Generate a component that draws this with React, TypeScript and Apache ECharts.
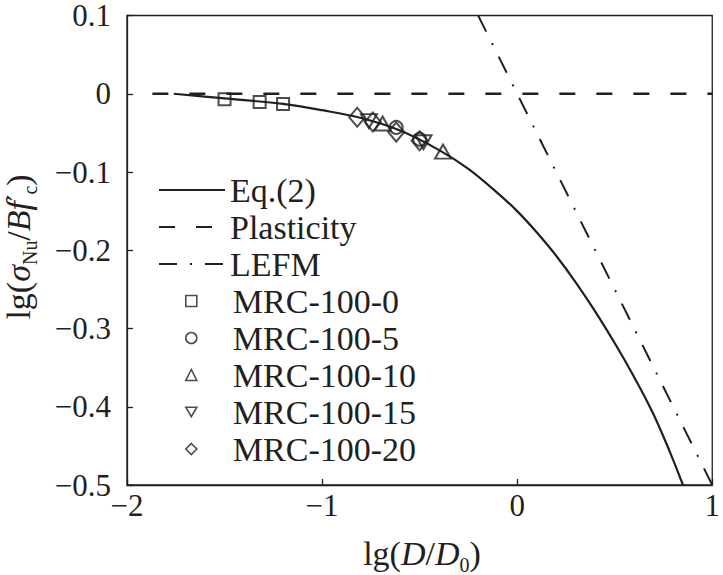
import React, { useEffect, useRef } from 'react';
import * as echarts from 'echarts';

const INK = '#231f20';
const FONT = '"Liberation Serif", "Times New Roman", serif';

// Eq.(2) curve
const curveX = [-1.76, -1.5, -1.2, -1.0, -0.8, -0.6, -0.4, -0.25, -0.1, 0.0, 0.1, 0.2, 0.3, 0.42, 0.55, 0.69, 0.78, 0.85];
const curveY = [0.0, -0.006, -0.013, -0.021, -0.031, -0.047, -0.072, -0.096, -0.127, -0.15, -0.177, -0.207, -0.241, -0.286, -0.34, -0.405, -0.456, -0.5];

// Plasticity criterion (horizontal line)
const plasticX = [-1.87, 1];
const plasticY = [0, 0];

// LEFM asymptote
const lefmX = [-0.2, 1];
const lefmY = [0.1, -0.5];

// test data
const mrc0X = [-1.5, -1.32, -1.2];
const mrc0Y = [-0.007, -0.0105, -0.013];
const mrc5X = [-0.62, -0.5];
const mrc5Y = [-0.043, -0.058];
const mrc10X = [-0.69, -0.38];
const mrc10Y = [-0.038, -0.074];
const mrc15X = [-0.76, -0.48];
const mrc15Y = [-0.035, -0.062];
const mrc20X = [-0.82, -0.74, -0.62, -0.5];
const mrc20Y = [-0.03, -0.036, -0.049, -0.06];

const lineNames = ['Eq.(2)', 'Plasticity', 'LEFM'];
const markerNames = ['MRC-100-0', 'MRC-100-5', 'MRC-100-10', 'MRC-100-15', 'MRC-100-20'];

const xTicks = [-2, -1, 0, 1];
const yTicks = [-0.5, -0.4, -0.3, -0.2, -0.1, 0, 0.1];

const zip = (xs: number[], ys: number[]) => xs.map((x, i) => [x, ys[i]]);
const minus = (s: string) => s.replace('-', '\u2212');

const markerStyle = { color: 'rgba(0,0,0,0)', borderColor: INK, borderWidth: 2 };
const hideSymbol = { color: 'rgba(0,0,0,0)', borderWidth: 0, borderColor: 'rgba(0,0,0,0)' };

const richLabel = {
  n: { fontFamily: FONT, fontSize: 34, lineHeight: 44, fill: INK },
  i: { fontFamily: FONT, fontSize: 34, lineHeight: 44, fontStyle: 'italic', fill: INK },
  p: { fontFamily: '"DejaVu Serif", serif', fontSize: 28, lineHeight: 44, fill: INK },
  s: { fontFamily: FONT, fontSize: 20, lineHeight: 20, verticalAlign: 'bottom', fill: INK },
};

const legendText = { color: INK, fontFamily: FONT, fontSize: 34, lineHeight: 34 };

const option: any = {
  animation: false,
  backgroundColor: '#fff',
  grid: { left: 127, top: 10, right: 5.5, bottom: 90, show: true, borderColor: INK, borderWidth: 1.3, backgroundColor: 'transparent' },
  xAxis: {
    type: 'value', min: xTicks[0], max: xTicks[xTicks.length - 1], interval: 1,
    axisLine: { show: true, onZero: false, lineStyle: { color: INK, width: 1.3 } },
    axisTick: { show: true, inside: true, length: 6, lineStyle: { color: INK, width: 1.3 } },
    splitLine: { show: false },
    axisLabel: { color: INK, fontFamily: FONT, fontSize: 31, lineHeight: 24, margin: 8, formatter: (v: number) => minus(String(Math.round(v))) },
  },
  yAxis: {
    type: 'value', min: yTicks[0], max: yTicks[yTicks.length - 1], interval: 0.1,
    axisLine: { show: true, onZero: false, lineStyle: { color: INK, width: 1.3 } },
    axisTick: { show: true, inside: true, length: 6, lineStyle: { color: INK, width: 1.3 } },
    splitLine: { show: false },
    axisLabel: {
      color: INK, fontFamily: FONT, fontSize: 31, lineHeight: 22, margin: 16,
      formatter: (v: number) => { const r = Math.round(v * 10) / 10; return r === 0 ? '0' : minus(r.toFixed(1)); },
    },
  },
  legend: [
    {
      orient: 'vertical', left: 153, top: 168, itemWidth: 66, itemHeight: 11, itemGap: 3,
      selectedMode: false,
      textStyle: legendText,
      data: lineNames.map((name) => ({ name, itemStyle: hideSymbol })),
    },
    {
      orient: 'vertical', left: 180, top: 279, itemWidth: 11, itemHeight: 11, itemGap: 3,
      selectedMode: false,
      textStyle: { ...legendText, padding: [0, 0, 0, 31] },
      itemStyle: { borderWidth: 1.6 },
      data: markerNames.map((name, i) => (i === 3 ? { name, icon: 'path://M0,0 L12,0 L6,10.4 Z' } : { name })),
    },
  ],
  series: [
    { name: lineNames[0], type: 'line', data: zip(curveX, curveY), smooth: 0.35, symbol: 'none', color: INK, lineStyle: { color: INK, width: 2.2 }, z: 3 },
    { name: lineNames[1], type: 'line', data: zip(plasticX, plasticY), symbol: 'none', color: INK, lineStyle: { color: INK, width: 2.5, type: [16, 21] }, z: 2 },
    { name: lineNames[2], type: 'line', data: zip(lefmX, lefmY), symbol: 'none', color: INK, lineStyle: { color: INK, width: 2, type: [18, 13, 2, 13] }, z: 2 },
    { name: markerNames[0], type: 'scatter', data: zip(mrc0X, mrc0Y), symbol: 'rect', symbolSize: [12, 12], itemStyle: markerStyle, z: 4 },
    { name: markerNames[1], type: 'scatter', data: zip(mrc5X, mrc5Y), symbol: 'circle', symbolSize: 13, itemStyle: markerStyle, z: 4 },
    { name: markerNames[2], type: 'scatter', data: zip(mrc10X, mrc10Y), symbol: 'triangle', symbolSize: [16, 14], itemStyle: markerStyle, z: 4 },
    { name: markerNames[3], type: 'scatter', data: zip(mrc15X, mrc15Y), symbol: 'triangle', symbolRotate: 180, symbolSize: [16, 14], itemStyle: markerStyle, z: 4 },
    { name: markerNames[4], type: 'scatter', data: zip(mrc20X, mrc20Y), symbol: 'diamond', symbolSize: [16, 19], itemStyle: markerStyle, z: 4 },
  ],
  graphic: [
    {
      type: 'text', x: 18, y: 247, rotation: Math.PI / 2,
      style: {
        text: '{n|lg(}{i|\u03c3}{s|Nu}{n|/}{i|Bf}{p|\u2032}{s|c}{n|)}',
        align: 'center', verticalAlign: 'middle', fill: INK,
        rich: richLabel,
      },
    },
    {
      type: 'text', x: 422, y: 553,
      style: {
        text: '{n|lg(}{i|D}{n|/}{i|D}{s|0}{n|)}',
        align: 'center', verticalAlign: 'middle', fill: INK,
        rich: richLabel,
      },
    },
  ],
};

export default function App() {
  const ref = useRef<HTMLDivElement>(null);
  useEffect(() => {
    const chart = echarts.init(ref.current!, null, { renderer: 'svg' });
    chart.setOption(option);
    return () => chart.dispose();
  }, []);
  return <div ref={ref} style={{ position: 'fixed', left: 0, top: 0, width: 723, height: 575 }} />;
}
